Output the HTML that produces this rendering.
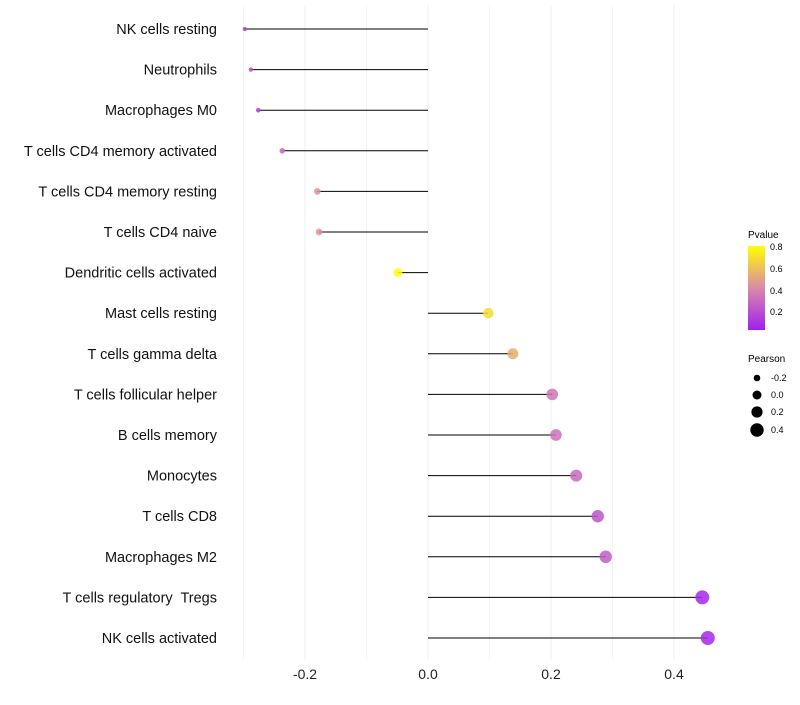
<!DOCTYPE html>
<html><head><meta charset="utf-8"><style>
body{margin:0;background:#fff;}
svg text{font-family:"Liberation Sans",sans-serif;white-space:pre;}
</style></head><body>
<svg id="chart" width="800" height="700" xmlns="http://www.w3.org/2000/svg">
<defs><linearGradient id="pg" x1="0" y1="1" x2="0" y2="0">
<stop offset="0" stop-color="#a020f0"/><stop offset="0.5" stop-color="#d98aa8"/><stop offset="1" stop-color="#ffff00"/>
</linearGradient></defs>
<g id="grid"></g><g id="marks"></g><g id="labels"></g>
<g>
<text x="748" y="238" font-size="10">Pvalue</text>
<rect x="748" y="246" width="17" height="84" fill="url(#pg)"/>
<text x="770" y="250" font-size="9">0.8</text><text x="770" y="272" font-size="9">0.6</text>
<text x="770" y="294" font-size="9">0.4</text><text x="770" y="315" font-size="9">0.2</text>
</g>
<g>
<text x="748" y="362" font-size="10">Pearson</text>
<circle cx="757" cy="378" r="3.3" fill="#000"/><text x="771" y="381" font-size="9">-0.2</text>
<circle cx="757" cy="395" r="4.5" fill="#000"/><text x="771" y="398" font-size="9">0.0</text>
<circle cx="757" cy="412" r="5.6" fill="#000"/><text x="771" y="415" font-size="9">0.2</text>
<circle cx="757" cy="430" r="6.7" fill="#000"/><text x="771" y="433" font-size="9">0.4</text>
</g>
</svg>
<script>
const categories=["NK cells resting","Neutrophils","Macrophages M0","T cells CD4 memory activated","T cells CD4 memory resting","T cells CD4 naive","Dendritic cells activated","Mast cells resting","T cells gamma delta","T cells follicular helper","B cells memory","Monocytes","T cells CD8","Macrophages M2","T cells regulatory  Tregs","NK cells activated"];
const pearson=[-0.298,-0.288,-0.276,-0.237,-0.180,-0.177,-0.049,0.098,0.138,0.202,0.208,0.241,0.276,0.289,0.446,0.455];
const pvalue=[0.1,0.18,0.15,0.3,0.45,0.45,0.82,0.7,0.55,0.35,0.33,0.3,0.22,0.25,0.05,0.05];
const majorTicks=[-0.2,0,0.2,0.4];
const tickLabels=["-0.2","0.0","0.2","0.4"];
const minorTicks=[-0.3,-0.1,0.1,0.3];
const NS="http://www.w3.org/2000/svg";
const x=v=>428+v*615;
const y=i=>29+i*40.6;
const rad=v=>Math.sqrt(Math.max(2,21.9+59.6*v));
function lerp(a,b,t){return a.map((c,i)=>Math.round(c+(b[i]-c)*t));}
function col(p){const t=Math.max(0,Math.min(1,(p-0.02)/0.8));
const A=[160,32,240],M=[217,138,168],B=[255,255,0];
const c=t<0.5?lerp(A,M,t/0.5):lerp(M,B,(t-0.5)/0.5);return `rgb(${c})`;}
function mk(tag,attrs,parent){const e=document.createElementNS(NS,tag);for(const k in attrs)e.setAttribute(k,attrs[k]);parent.appendChild(e);return e;}
const grid=document.getElementById('grid'),marks=document.getElementById('marks'),labels=document.getElementById('labels');
minorTicks.forEach(v=>{const l=mk('line',{x1:x(v),x2:x(v),y1:5,y2:660,stroke:'#f5f5f5','stroke-width':1},grid);

});
majorTicks.forEach((v,i)=>{const l=mk('line',{x1:x(v),x2:x(v),y1:5,y2:660,stroke:'#efefef','stroke-width':1},grid);


const t=mk('text',{x:x(v),y:679,'font-size':14,'text-anchor':'middle',fill:'#222'},labels);t.textContent=tickLabels[i];

});
categories.forEach((c,i)=>{const t=mk('text',{x:217,y:y(i)+5,'font-size':14.5,'text-anchor':'end',fill:'#111'},labels);t.textContent=c;


const l=mk('line',{x1:x(0),x2:x(pearson[i]),y1:y(i),y2:y(i),stroke:'#000','stroke-width':1},marks);


const p=mk('circle',{cx:x(pearson[i]),cy:y(i),r:rad(pearson[i]),fill:col(pvalue[i]),'fill-opacity':0.85},marks);

});
</script>
</body></html>
